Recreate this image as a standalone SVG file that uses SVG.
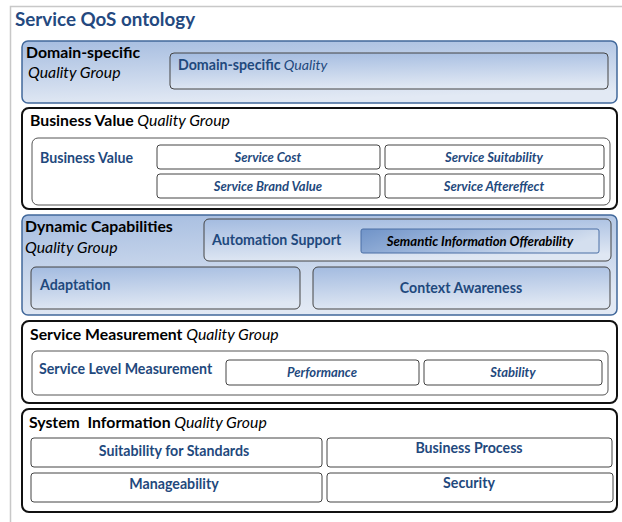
<svg xmlns="http://www.w3.org/2000/svg" width="622" height="522" viewBox="0 0 622 522">
<defs>
<linearGradient id="gBlue" x1="0" y1="0" x2="0.25" y2="1">
<stop offset="0" stop-color="#a6bde0"/>
<stop offset="1" stop-color="#e2e9f4"/>
</linearGradient>
<linearGradient id="gInner" x1="0" y1="0" x2="0.2" y2="1">
<stop offset="0" stop-color="#a3bbe0"/>
<stop offset="1" stop-color="#dfe7f3"/>
</linearGradient>
<linearGradient id="gSem" x1="0" y1="0" x2="1" y2="0.3">
<stop offset="0" stop-color="#6f93c8"/>
<stop offset="0.6" stop-color="#a9bfe0"/>
<stop offset="1" stop-color="#d4dfef"/>
</linearGradient>
<style>
text{font-family:Lato,"Liberation Sans",sans-serif}
.grpB{fill:url(#gBlue);stroke:#41689b;stroke-width:1.5}
.grpW{fill:#fff;stroke:#111;stroke-width:2}
.inB{fill:url(#gInner);stroke:#444;stroke-width:1}
.inW{fill:#fff;stroke:#555;stroke-width:1}
.leaf{fill:#fff;stroke:#444;stroke-width:1}
.hd{font-size:15.8px;font-weight:bold;fill:#000}
.it{font-style:italic;font-weight:normal}
.bl{font-size:14.2px;font-weight:bold;fill:#1f497d}
.lf{font-size:13px;font-weight:bold;font-style:italic;fill:#1f497d;text-anchor:middle}
.lc{font-size:14.2px;font-weight:bold;fill:#1f497d;text-anchor:middle}
</style>
</defs>
<rect x="10.5" y="6.5" width="620" height="520" fill="#fff" stroke="#c8c8c8" stroke-width="1.5"/>
<text x="15" y="26" style="font-size:18.8px;font-weight:bold;fill:#24497f">Service QoS ontology</text>

<g id="domain-group">
<rect class="grpB" x="22" y="41" width="595" height="62" rx="6"/>
<text class="hd" x="26" y="58">Domain-specific</text>
<text class="hd it" x="28" y="78">Quality Group</text>
<g id="domain-quality">
<rect class="inB" x="170" y="53" width="438" height="36" rx="4"/>
<text class="bl" x="178" y="70">Domain-specific<tspan class="it"> Quality</tspan></text>
</g>
</g>

<g id="business-group">
<rect class="grpW" x="22" y="108" width="595" height="101" rx="7"/>
<text class="hd" x="30" y="126">Business Value<tspan class="it"> Quality Group</tspan></text>
<g id="business-value">
<rect class="inW" x="32" y="138" width="578" height="67" rx="6"/>
<text class="bl" x="40" y="163">Business Value</text>
</g>
<g id="service-cost"><rect class="leaf" x="157" y="145" width="223" height="24" rx="3"/><text class="lf" x="268" y="161.5">Service Cost</text></g>
<g id="service-suitability"><rect class="leaf" x="385" y="145" width="219" height="24" rx="3"/><text class="lf" x="494" y="161.5">Service Suitability</text></g>
<g id="service-brand-value"><rect class="leaf" x="157" y="174" width="223" height="24" rx="3"/><text class="lf" x="268" y="190.5">Service Brand Value</text></g>
<g id="service-aftereffect"><rect class="leaf" x="385" y="174" width="219" height="24" rx="3"/><text class="lf" x="494" y="190.5">Service Aftereffect</text></g>
</g>

<g id="dynamic-group">
<rect class="grpB" x="22" y="215" width="595" height="100" rx="6"/>
<text class="hd" x="25" y="232">Dynamic Capabilities</text>
<text class="hd it" x="25" y="253">Quality Group</text>
<g id="automation-support">
<rect class="inB" x="204" y="219" width="407" height="42" rx="5"/>
<text class="bl" x="212" y="245">Automation Support</text>
</g>
<g id="semantic-information">
<rect x="361" y="229" width="238" height="24" rx="2" fill="url(#gSem)" stroke="#4a6fa5" stroke-width="1"/>
<text x="480" y="246" style="font-size:13.2px;font-weight:bold;font-style:italic;fill:#000;text-anchor:middle">Semantic Information Offerability</text>
</g>
<g id="adaptation">
<rect class="inB" x="31" y="267" width="269" height="42" rx="5"/>
<text class="bl" x="40" y="290">Adaptation</text>
</g>
<g id="context-awareness">
<rect class="inB" x="313" y="267" width="297" height="42" rx="5"/>
<text class="lc" x="461" y="293">Context Awareness</text>
</g>
</g>

<g id="measurement-group">
<rect class="grpW" x="22" y="321" width="595" height="82" rx="7"/>
<text class="hd" x="30" y="340">Service Measurement<tspan class="it"> Quality Group</tspan></text>
<g id="service-level-measurement">
<rect class="inW" x="32" y="351" width="576" height="44" rx="5"/>
<text class="bl" x="39" y="374">Service Level Measurement</text>
</g>
<g id="performance"><rect class="leaf" x="226" y="360" width="193" height="25" rx="3"/><text class="lf" x="322" y="377">Performance</text></g>
<g id="stability"><rect class="leaf" x="424" y="360" width="178" height="25" rx="3"/><text class="lf" x="513" y="377">Stability</text></g>
</g>

<g id="system-group">
<rect class="grpW" x="22" y="409" width="595" height="103" rx="7"/>
<text class="hd" x="29" y="428" xml:space="preserve">System  Information<tspan class="it"> Quality Group</tspan></text>
<g id="suitability-standards"><rect class="leaf" x="31" y="438" width="291" height="29" rx="3"/><text class="lc" x="174" y="456">Suitability for Standards</text></g>
<g id="business-process"><rect class="leaf" x="327" y="438" width="285" height="29" rx="3"/><text class="lc" x="469" y="453">Business Process</text></g>
<g id="manageability"><rect class="leaf" x="31" y="473" width="291" height="29" rx="3"/><text class="lc" x="174" y="489">Manageability</text></g>
<g id="security"><rect class="leaf" x="327" y="473" width="286" height="29" rx="3"/><text class="lc" x="469" y="488">Security</text></g>
</g>
<g id="connectors"/>
</svg>
